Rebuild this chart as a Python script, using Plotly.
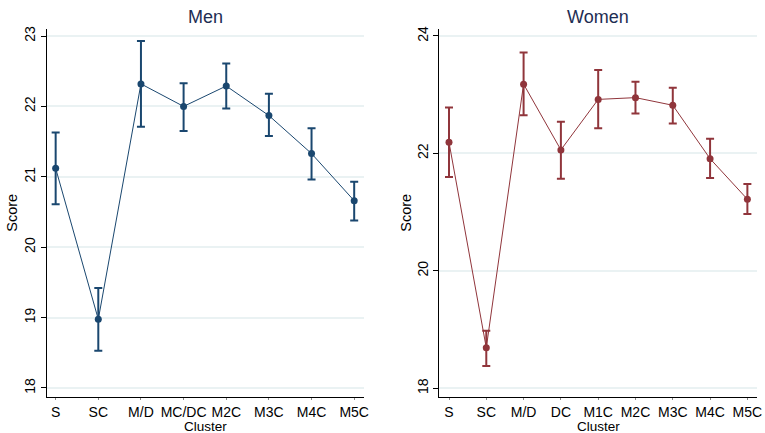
import plotly.graph_objects as go

men_cats = ["S", "SC", "M/D", "MC/DC", "M2C", "M3C", "M4C", "M5C"]
men_mean = [21.12, 18.975, 22.32, 22.00, 22.29, 21.87, 21.33, 20.66]
men_upper = [21.63, 19.42, 22.93, 22.33, 22.61, 22.18, 21.69, 20.93]
men_lower = [20.61, 18.53, 21.71, 21.65, 21.97, 21.58, 20.96, 20.38]

women_cats = ["S", "SC", "M/D", "DC", "M1C", "M2C", "M3C", "M4C", "M5C"]
women_mean = [22.19, 18.69, 23.18, 22.06, 22.92, 22.95, 22.82, 21.91, 21.22]
women_upper = [22.78, 18.98, 23.72, 22.54, 23.42, 23.22, 23.12, 22.25, 21.48]
women_lower = [21.60, 18.38, 22.65, 21.57, 22.43, 22.68, 22.51, 21.58, 20.97]

men_ticks = [18, 19, 20, 21, 22, 23]
women_ticks = [18, 20, 22, 24]

NAVY = "#1a476f"
MAROON = "#90353b"
GRID = "#eaf2f3"
FONT = "Liberation Sans, Arial, sans-serif"

W, H = 765, 433


def xd(a, b):
    return [a / W, b / W]


def yd(top, bottom):
    return [(H - bottom) / H, (H - top) / H]


fig = go.Figure()


def add_series(cats, mean, up, lo, color, xa, ya):
    plus = [u - m for u, m in zip(up, mean)]
    minus = [m - l for m, l in zip(mean, lo)]
    fig.add_trace(go.Scatter(
        x=cats, y=mean, mode="lines+markers",
        line=dict(color=color, width=1),
        marker=dict(color=color, size=7),
        error_y=dict(type="data", symmetric=False, array=plus, arrayminus=minus,
                     color=color, thickness=2, width=4),
        xaxis=xa, yaxis=ya, showlegend=False,
    ))


add_series(men_cats, men_mean, men_upper, men_lower, NAVY, "x", "y")
add_series(women_cats, women_mean, women_upper, women_lower, MAROON, "x2", "y2")

TICKFONT = dict(family=FONT, size=14, color="black")

common_x = dict(type="category", showline=True, linecolor="black", linewidth=1,
                ticks="outside", ticklen=2, tickcolor="#888888", showgrid=False,
                tickfont=TICKFONT, automargin=False, zeroline=False)
common_y = dict(showline=True, linecolor="black", linewidth=1, ticks="outside",
                ticklen=5, tickcolor="black", showgrid=True, gridcolor=GRID, gridwidth=2,
                tickangle=-90, zeroline=False, automargin=False,
                tickfont=dict(family=FONT, size=14, color="black"))

L1, R1, L2, R2 = 46.7, 364, 439.3, 756.7
TOP, BOT = 28.7, 396.7

ann = []
for txt, cx in [("Men", (L1 + R1) / 2), ("Women", (L2 + R2) / 2)]:
    ann.append(dict(text=txt, x=cx / W, y=(H - 17) / H, xref="paper", yref="paper",
                    showarrow=False, font=dict(family=FONT, size=18, color="#1e2d53"),
                    xanchor="center", yanchor="middle"))
for cx in [(L1 + R1) / 2, (L2 + R2) / 2]:
    ann.append(dict(text="Cluster", x=cx / W, y=(H - 426.5) / H, xref="paper", yref="paper",
                    showarrow=False, font=dict(family=FONT, size=13.5, color="black"),
                    xanchor="center", yanchor="middle"))
for sx in [12, 406]:
    ann.append(dict(text="Score", x=sx / W, y=(H - (TOP + BOT) / 2) / H, xref="paper", yref="paper",
                    showarrow=False, textangle=-90, font=dict(family=FONT, size=14.5, color="black"),
                    xanchor="center", yanchor="middle"))

fig.update_layout(
    width=W, height=H,
    margin=dict(l=0, r=0, t=0, b=0),
    paper_bgcolor="white", plot_bgcolor="white",
    xaxis=dict(common_x, domain=xd(L1, R1), range=[-0.21, 7.23], anchor="y"),
    yaxis=dict(common_y, domain=yd(TOP, BOT), range=[17.876, 23.104], tickvals=men_ticks, anchor="x"),
    xaxis2=dict(common_x, domain=xd(L2, R2), range=[-0.26, 8.25], anchor="y2"),
    yaxis2=dict(common_y, domain=yd(TOP, BOT), range=[17.857, 24.124], tickvals=women_ticks, anchor="x2"),
    annotations=ann,
)

fig.write_html("out.html", config={"displayModeBar": False},
               post_script="document.body.style.margin='0';document.body.style.overflow='hidden';")
